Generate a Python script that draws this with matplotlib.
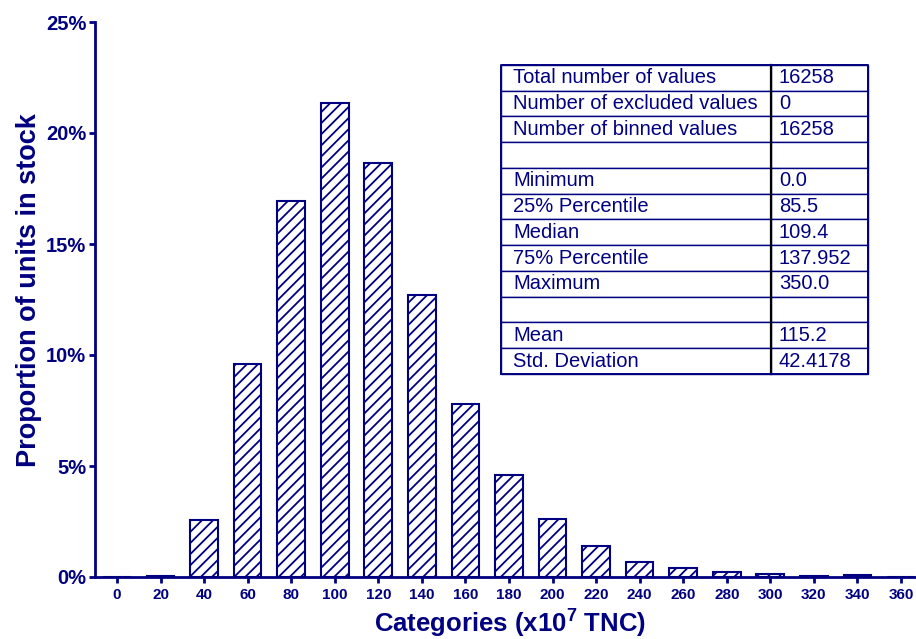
import matplotlib
matplotlib.use('Agg')
import matplotlib.pyplot as plt
from matplotlib.ticker import FuncFormatter

plt.rcParams['font.family'] = ['Liberation Sans', 'DejaVu Sans']
plt.rcParams['mathtext.fontset'] = 'custom'
plt.rcParams['mathtext.rm'] = 'Liberation Sans:bold'
plt.rcParams['mathtext.bf'] = 'Liberation Sans:bold'
plt.rcParams['mathtext.default'] = 'bf'
plt.rcParams['hatch.linewidth'] = 1.3

NAVY = '#000080'

# ---- data ----
categories = [0, 20, 40, 60, 80, 100, 120, 140, 160, 180, 200, 220, 240, 260, 280, 300, 320, 340, 360]
proportions = [0.0, 0.03, 2.57, 9.6, 16.94, 21.35, 18.63, 12.7, 7.78, 4.61, 2.6, 1.38, 0.68,
               0.41, 0.24, 0.15, 0.06, 0.07, 0.0]
y_ticks = [0, 5, 10, 15, 20, 25]
stat_names = ["Total number of values", "Number of excluded values", "Number of binned values", "",
              "Minimum", "25% Percentile", "Median", "75% Percentile", "Maximum", "",
              "Mean", "Std. Deviation"]
stat_values = ["16258", "0", "16258", "", "0.0", "85.5", "109.4", "137.952", "350.0", "",
               "115.2", "42.4178"]

fig = plt.figure(figsize=(9.16, 6.39), dpi=100)
ax = fig.add_axes([95.2 / 916, 62 / 639, 820.8 / 916, 555 / 639])

ax.bar(categories, proportions, width=12.7, facecolor='white', edgecolor=NAVY,
       hatch='///', linewidth=1.5, zorder=2)

ax.set_xlim(-10, 366.9)
ax.set_ylim(0, 25)
ax.set_yticks(y_ticks)
ax.yaxis.set_major_formatter(FuncFormatter(lambda v, p: f'{v:.0f}%'))
ax.set_xticks(categories)
ax.set_xticklabels([str(c) for c in categories])

for s in ['top', 'right']:
    ax.spines[s].set_visible(False)
for s in ['left', 'bottom']:
    ax.spines[s].set_color(NAVY)
    ax.spines[s].set_linewidth(2)

ax.tick_params(axis='y', direction='out', length=4.5, width=2, color=NAVY,
               labelcolor=NAVY, labelsize=14.5, pad=2)
ax.tick_params(axis='x', direction='out', length=4.5, width=2, color=NAVY,
               labelcolor=NAVY, labelsize=11, pad=3.5)
for lab in ax.get_xticklabels() + ax.get_yticklabels():
    lab.set_fontweight('bold')

ax.set_xlabel(r'Categories (x10$^{7}$ TNC)', fontsize=18.5, fontweight='bold', color=NAVY)
ax.xaxis.label.set_va('baseline')
ax.xaxis.set_label_coords(0.506, -0.1009)
ax.set_ylabel('Proportion of units in stock', fontsize=19.5, fontweight='bold', color=NAVY)
ax.yaxis.label.set_va('center')
ax.yaxis.set_label_coords(-0.0807, 0.517)

# ---- statistics table ----
tx0, ty0, tw, th = 0.4944, 0.3658, 0.4471, 0.5568
cw0 = 0.7357
tbl = ax.table(cellText=[[n, v] for n, v in zip(stat_names, stat_values)],
               colWidths=[cw0, 1 - cw0], bbox=[tx0, ty0, tw, th], cellLoc='left')
tbl.auto_set_font_size(False)
tbl.set_fontsize(14.5)
tbl.set_zorder(4)
for (r, c), cell in tbl.get_celld().items():
    cell.set_edgecolor(NAVY)
    cell.set_linewidth(1.0)
    cell.set_facecolor('white')
    cell.get_text().set_color(NAVY)
    cell.PAD = 0.044 if c == 0 else 0.082

dx = tx0 + tw * cw0
ax.plot([dx, dx], [ty0, ty0 + th], transform=ax.transAxes, color='black', lw=1.6,
        clip_on=False, zorder=6)
ax.plot([tx0, tx0 + tw, tx0 + tw, tx0, tx0], [ty0, ty0, ty0 + th, ty0 + th, ty0],
        transform=ax.transAxes, color=NAVY, lw=1.4, clip_on=False, zorder=6)

fig.savefig('out.png', dpi=100)
